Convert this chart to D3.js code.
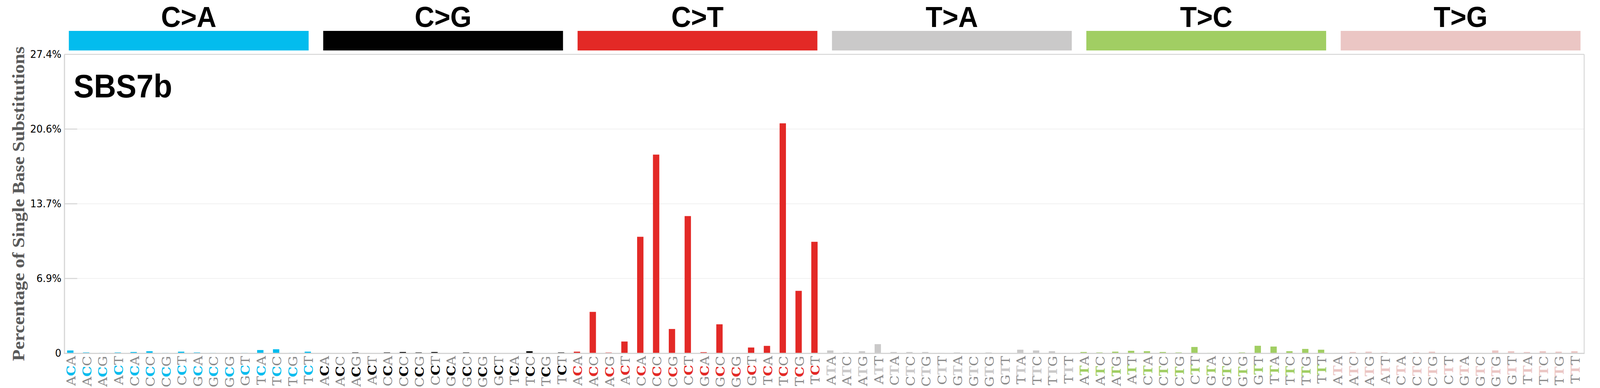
<!DOCTYPE html>
<html>
<head>
<meta charset="utf-8">
<script src="https://cdn.jsdelivr.net/npm/d3@7"></script>
<style>
  html, body { margin: 0; padding: 0; background: #fff; overflow: hidden; width: 100%; height: 100%; }
  #chart { width: 100vw; height: 100vh; }
  svg { display: block; width: 100%; height: 100%; }
</style>
</head>
<body>
<div id="chart"></div>
<script>
// ---------- DATA ----------
const signatureName = "SBS7b";
const yAxisTitle = "Percentage of Single Base Substitutions";
const mutationTypes = ["C>A", "C>G", "C>T", "T>A", "T>C", "T>G"];
const typeColors = ["#03BCEE", "#010101", "#E32926", "#CAC9C9", "#A1CE63", "#EBC6C4"];
const flank5 = ["A", "A", "A", "A", "C", "C", "C", "C", "G", "G", "G", "G", "T", "T", "T", "T"];
const flank3 = ["A", "C", "G", "T", "A", "C", "G", "T", "A", "C", "G", "T", "A", "C", "G", "T"];

// percentages (16 contexts per type)
const valuesCA = [0.25, 0.07, 0.04, 0.07, 0.11, 0.18, 0.04, 0.14, 0.07, 0.04, 0.00, 0.04, 0.29, 0.36, 0.04, 0.14];
const valuesCG = [0.00, 0.03, 0.07, 0.03, 0.07, 0.11, 0.07, 0.11, 0.00, 0.07, 0.03, 0.03, 0.03, 0.18, 0.03, 0.07];
const valuesCT = [0.14, 3.79, 0.06, 1.07, 10.68, 18.22, 2.22, 12.58, 0.09, 2.65, 0.03, 0.52, 0.67, 21.09, 5.72, 10.22];
const valuesTA = [0.25, 0.07, 0.18, 0.83, 0.11, 0.11, 0.11, 0.04, 0.07, 0.04, 0.07, 0.00, 0.32, 0.25, 0.18, 0.00];
const valuesTC = [0.11, 0.07, 0.14, 0.22, 0.18, 0.11, 0.07, 0.57, 0.04, 0.00, 0.07, 0.68, 0.61, 0.18, 0.39, 0.32];
const valuesTG = [0.04, 0.11, 0.14, 0.07, 0.04, 0.07, 0.14, 0.00, 0.04, 0.04, 0.25, 0.18, 0.11, 0.18, 0.14, 0.18];
const seriesValues = [valuesCA, valuesCG, valuesCT, valuesTA, valuesTC, valuesTG];
const tickFractions = [0, 0.25, 0.5, 0.75, 1];

// ---------- BUILD ROWS ----------
const rows = [];
mutationTypes.forEach((t, ti) => {
  const ref = t[0];
  flank5.forEach((f5, i) => {
    rows.push({
      id: t + ":" + f5 + ref + flank3[i],
      type: t, typeIndex: ti,
      f5: f5, ref: ref, f3: flank3[i],
      value: seriesValues[ti][i],
      color: typeColors[ti]
    });
  });
});

// ---------- LAYOUT ----------
const W = 4393, H = 992;
const plotLeft = 176.5, plotRight = 4349.5, plotTop = 139, plotBottom = 903;

const svg = d3.select("#chart").append("svg")
  .attr("viewBox", `0 0 ${W} ${H}`)
  .attr("preserveAspectRatio", "none");

svg.append("rect").attr("width", W).attr("height", H).attr("fill", "#fff");

const x = d3.scaleBand()
  .domain(rows.map(d => d.id))
  .range([171.3, 4344.5])
  .paddingInner(0.6)
  .paddingOuter(0.3);

const maxVal = d3.max(rows, d => d.value);
const yMax = maxVal * 1.3;
const y = d3.scaleLinear().domain([0, yMax]).range([plotBottom, plotTop]);

const stripX = d3.scaleBand()
  .domain(mutationTypes)
  .range([189, 4339.5])
  .paddingInner(0.0573)
  .paddingOuter(0);

// ---------- TOP STRIPS & LABELS ----------
const strips = svg.append("g").attr("class", "strips");
strips.selectAll("rect").data(mutationTypes).join("rect")
  .attr("x", d => stripX(d))
  .attr("y", 79)
  .attr("width", stripX.bandwidth())
  .attr("height", 50)
  .attr("fill", (d, i) => typeColors[i]);
strips.selectAll("text").data(mutationTypes).join("text")
  .attr("x", d => stripX(d) + stripX.bandwidth() / 2)
  .attr("y", 69)
  .attr("text-anchor", "middle")
  .attr("font-family", "'Liberation Sans', Arial, sans-serif")
  .attr("font-weight", "bold")
  .attr("font-size", 75)
  .attr("fill", "#000")
  .text(d => d);

// ---------- GRID ----------
const ticks = tickFractions.map(f => f * yMax);
const inner = ticks.filter((t, i) => i > 0 && i < ticks.length - 1);
const grid = svg.append("g").attr("class", "grid");
grid.selectAll("line.g").data(inner).join("line")
  .attr("class", "g")
  .attr("x1", plotLeft).attr("x2", plotRight)
  .attr("y1", d => y(d)).attr("y2", d => y(d))
  .attr("stroke", "#ececec").attr("stroke-width", 1.5);
grid.selectAll("line.s").data(inner).join("line")
  .attr("class", "s")
  .attr("x1", plotLeft).attr("x2", 212)
  .attr("y1", d => y(d)).attr("y2", d => y(d))
  .attr("stroke", "#d4d4d4").attr("stroke-width", 2.5);

// ---------- BARS ----------
svg.append("g").attr("class", "bars")
  .selectAll("rect").data(rows).join("rect")
  .attr("x", d => x(d.id))
  .attr("width", x.bandwidth())
  .attr("y", d => y(d.value))
  .attr("height", d => y(0) - y(d.value))
  .attr("fill", d => d.color);

// ---------- FRAME ----------
const frame = svg.append("g").attr("class", "frame");
frame.append("line").attr("x1", plotLeft).attr("x2", plotRight).attr("y1", plotTop).attr("y2", plotTop)
  .attr("stroke", "#d6d6d6").attr("stroke-width", 2.5);
frame.append("line").attr("x1", plotRight).attr("x2", plotRight).attr("y1", plotTop).attr("y2", plotBottom)
  .attr("stroke", "#d6d6d6").attr("stroke-width", 2.5);

const yAxis = d3.axisLeft(y)
  .tickValues(ticks)
  .tickSize(0)
  .tickPadding(8)
  .tickFormat(d => d === 0 ? "0" : d3.format(".1f")(d) + "%");
const yAxisG = svg.append("g").attr("transform", `translate(${plotLeft},0)`).call(yAxis);
yAxisG.select(".domain").attr("stroke", "#d4d4d4").attr("stroke-width", 3);
yAxisG.selectAll("text")
  .attr("font-family", "'DejaVu Sans', sans-serif")
  .attr("font-size", 27)
  .attr("fill", "#000");

frame.append("line").attr("x1", plotLeft - 1.5).attr("x2", plotRight + 1.2).attr("y1", plotBottom + 0.5).attr("y2", plotBottom + 0.5)
  .attr("stroke", "#d4d4d4").attr("stroke-width", 3);

// ---------- X LABELS ----------
const labels = svg.append("g").attr("class", "xlabels");
const lab = labels.selectAll("text").data(rows).join("text")
  .attr("transform", d => `translate(${x(d.id) + x.bandwidth() / 2 + 2},910) rotate(-90)`)
  .attr("text-anchor", "end")
  .attr("dy", "0.365em")
  .attr("font-family", "'DejaVu Serif', serif")
  .attr("font-size", 34);
lab.append("tspan").attr("fill", "#8a8a8a").text(d => d.f5);
lab.append("tspan").attr("fill", d => d.color).attr("font-weight", "bold").text(d => d.ref);
lab.append("tspan").attr("fill", "#8a8a8a").text(d => d.f3);

// ---------- TITLES ----------
svg.append("text")
  .attr("x", 202).attr("y", 249)
  .attr("font-family", "'Liberation Sans', Arial, sans-serif")
  .attr("font-weight", "bold")
  .attr("font-size", 84)
  .attr("fill", "#000")
  .text(signatureName);

svg.append("text")
  .attr("transform", `translate(67,${(plotTop + plotBottom) / 2}) rotate(-90)`)
  .attr("text-anchor", "middle")
  .attr("font-family", "'Liberation Serif', 'Times New Roman', serif")
  .attr("font-weight", "bold")
  .attr("font-size", 48)
  .attr("fill", "#5a5a5a")
  .text(yAxisTitle);
</script>
</body>
</html>
